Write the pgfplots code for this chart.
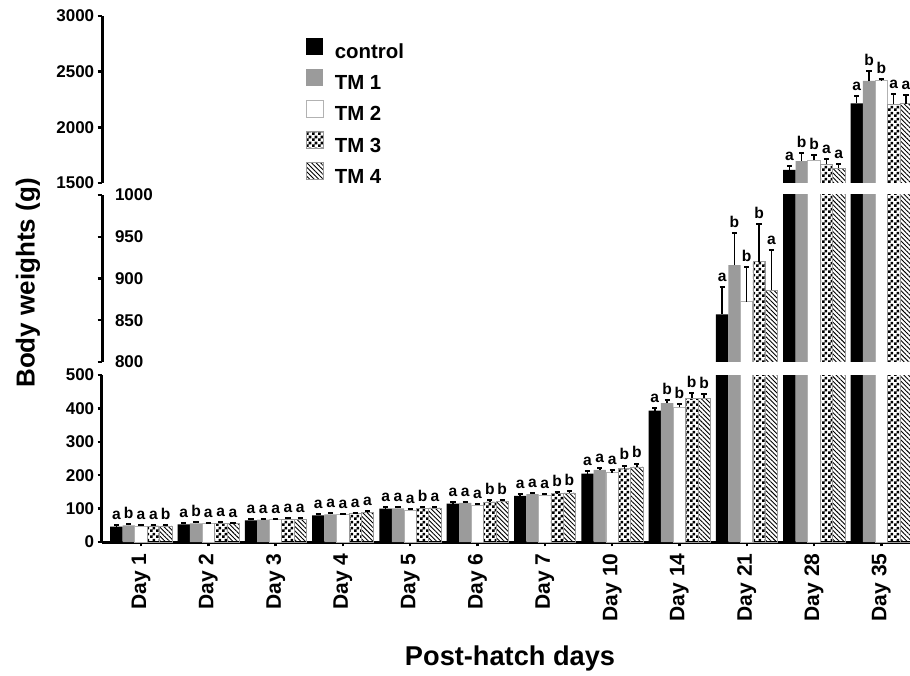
\documentclass[border=0pt]{standalone}
\usepackage{fontspec}
\setmainfont{Liberation Sans}
\usepackage{pgfplots}
\pgfplotsset{compat=1.18}
\usepackage{pgfplotstable}
\usetikzlibrary{patterns,patterns.meta}

\pgfdeclarepatternformonly{mychecker}{\pgfpointorigin}{\pgfqpoint{3pt}{3pt}}{\pgfqpoint{3pt}{3pt}}{%
 \pgfpathrectangle{\pgfpointorigin}{\pgfqpoint{1.5pt}{1.5pt}}%
 \pgfpathrectangle{\pgfqpoint{1.5pt}{1.5pt}}{\pgfqpoint{1.5pt}{1.5pt}}%
 \pgfusepath{fill}}

\definecolor{tmgray}{RGB}{155,155,155}

\pgfplotstableread{
x  c    ce  t1   t1e t2   t2e t3   t3e t4   t4e lc l1 l2 l3 l4
0  46   4   50   4   48   3   48   4   48   3   a  b  a  a  b
1  53   3   56   3   55   2   56   3   56   2   a  b  a  a  a
2  65   4   67   3   67   3   68   3   68   3   a  a  a  a  a
3  80   4   83   3   82   3   85   3   88   4   a  a  a  a  a
4  100  6   101  4   95   3   101  5   102  4   a  a  a  b  a
5  115  4   117  4   111  3   120  7   122  5   a  a  a  b  b
6  138  5   143  4   140  5   145  6   147  5   a  a  a  b  b
7  205  8   216  5   208  7   220  9   225  10  a  a  a  b  b
8  393  8   416  9   403  10  430  15  430  12  a  b  b  b  b
9  857  33  916  38  872  42  920  45  886  48  a  b  b  b  a
10 1617 35  1697 69  1706 45  1668 47  1632 38  a  b  b  a  a
11 2215 68  2418 86  2418 17  2206 89  2212 74  a  b  b  a  a
}\data

\pgfplotsset{
 seg/.style={width=404pt, height=83.5pt, scale only axis,
  xmin=-0.58, xmax=11.426, enlargelimits=false,
  axis y line*=left,
  axis line style={line width=1.5pt, black},
  tick align=outside, major tick length=2.2pt,
  tick style={line width=1.2pt, black},
  yticklabel style={font=\fontsize{8.5}{9}\selectfont\bfseries, inner sep=1.5pt},
  /pgf/number format/assume math mode=true,
  /pgf/number format/set thousands separator={},
 },
 s0/.style={fill=black, draw=none},
 s1/.style={fill=tmgray, draw=none},
 s2/.style={fill=white, draw=black!30, line width=0.4pt},
 s3/.style={pattern=mychecker, pattern color=black, draw=black!40, line width=0.3pt},
 s4/.style={pattern={Lines[angle=-45, distance=1.6pt, line width=0.45pt]}, pattern color=black, draw=black!40, line width=0.3pt},
}

% #1 value col, #2 error col, #3 letter col, #4 shift, #5 style, #6 label domain, #7 bar domain
\newcommand\series[7]{%
 \addplot[ybar, bar width=0.183, bar shift=#4, #5, restrict y to domain=#7] table[x=x, y=#1]{\data};
 \addplot[draw=none, mark=none, forget plot, restrict y to domain=#6,
   error bars/.cd, y dir=plus, y explicit, error mark=|,
   error bar style={draw=black, solid, line width=0.75pt},
   error mark options={draw=black, solid, mark size=1.3pt, line width=1pt}]
   table[x expr=\thisrow{x}+#4, y=#1, y error=#2]{\data};
 \addplot[draw=none, mark=none, forget plot, restrict y to domain=#6,
   nodes near coords, point meta=explicit symbolic,
   every node near coord/.style={font=\fontsize{7.8}{8}\selectfont\bfseries, anchor=south, inner sep=0pt, yshift=2.5pt, text=black}]
   table[x expr=\thisrow{x}+#4, y expr=\thisrow{#1}+\thisrow{#2}, meta=#3]{\data};
}
\newcommand\allseries[2]{%
 \series{c}{ce}{lc}{-0.366}{s0}{#1}{#2}
 \series{t1}{t1e}{l1}{-0.183}{s1}{#1}{#2}
 \series{t2}{t2e}{l2}{0}{s2}{#1}{#2}
 \series{t3}{t3e}{l3}{0.183}{s3}{#1}{#2}
 \series{t4}{t4e}{l4}{0.366}{s4}{#1}{#2}
}

\begin{document}
\begin{tikzpicture}
% bottom segment
\begin{axis}[seg, at={(0,0)}, anchor=south west,
  axis x line*=bottom,
  ymin=0, ymax=500, ytick={0,100,...,500},
  xtick={0,...,11},
  xticklabels={Day 1,Day 2,Day 3,Day 4,Day 5,Day 6,Day 7,Day 10,Day 14,Day 21,Day 28,Day 35},
  xticklabel style={rotate=90, anchor=east, font=\fontsize{10.5}{11}\selectfont\bfseries},
  xlabel={Post-hatch days},
  xlabel style={at={(axis description cs:0.505,-0.695)}, anchor=center, font=\fontsize{13.6}{14}\selectfont\bfseries},
  ylabel={Body weights (g)},
  ylabel style={at={(axis description cs:-0.0916,1.551)}, anchor=center, font=\fontsize{13}{14}\selectfont\bfseries},
]
\allseries{0:500}{0:100000}
\end{axis}
% middle segment
\begin{axis}[seg, at={(0,90pt)}, anchor=south west,
  axis x line=none,
  ymin=800, ymax=1000, ytick={800,850,...,1000},
  yticklabel style={anchor=west, xshift=7pt},
]
\allseries{800:1000}{800:100000}
\end{axis}
% top segment
\begin{axis}[seg, at={(0,179.5pt)}, anchor=south west,
  axis x line=none,
  ymin=1500, ymax=3000, ytick={1500,2000,...,3000},
  legend style={at={(axis description cs:0.2525,0.871)}, anchor=north west,
    draw=none, fill=none, inner sep=0pt, outer sep=0pt, row sep=3pt,
    nodes={inner sep=0pt, text height=7.5pt, text depth=2pt, font=\fontsize{10.2}{11}\selectfont\bfseries},
    /tikz/every odd column/.append style={column sep=5.5pt}},
  legend cell align=left,
  legend image code/.code={\path[#1] (0pt,-0.75pt) rectangle (8.5pt,7.75pt);},
]
\allseries{1500:3000}{1500:100000}
\legend{control,TM 1,TM 2,TM 3,TM 4}
\end{axis}
\pgfresetboundingbox
\useasboundingbox (-51pt,-66.5pt) rectangle (404pt,271pt);
\end{tikzpicture}
\end{document}
